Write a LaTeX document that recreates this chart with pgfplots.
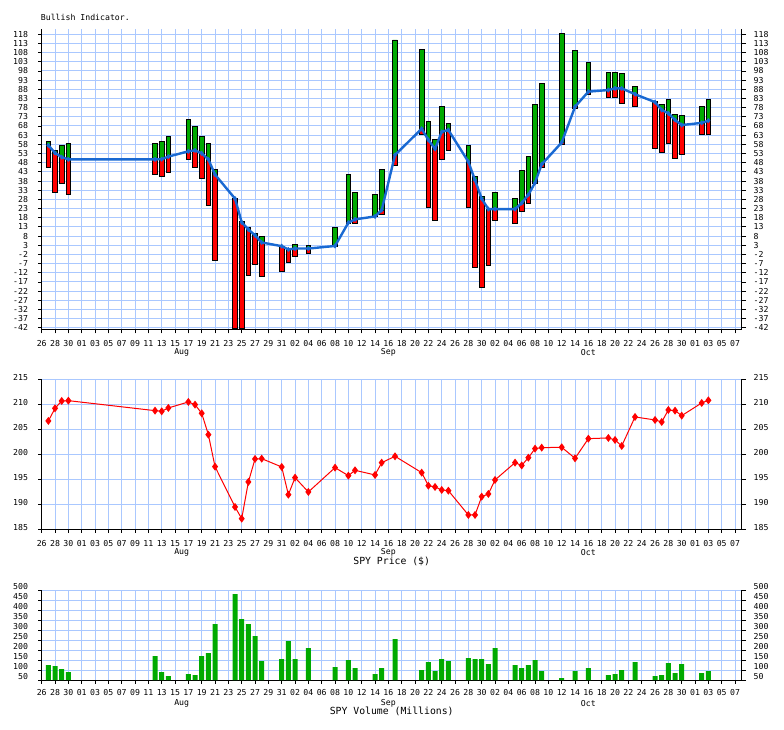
\documentclass[border=0pt]{standalone}
\usepackage{fontspec}
\setmainfont{DejaVu Sans Mono}
\usepackage{pgfplots}
\usepackage{pgfplotstable}
\pgfplotsset{compat=1.18}

\definecolor{gridblue}{RGB}{170,200,255}
\definecolor{bargreen}{RGB}{0,170,0}
\definecolor{barred}{RGB}{255,0,0}
\definecolor{lineblue}{RGB}{25,105,210}

\newcommand\tk{\fontsize{8.2}{9}\selectfont}
\newcommand\lb{\fontsize{9.8}{11}\selectfont}

% day 0 = Jul 26
\pgfplotstableread{
x   lo     mid    hi
1   45.3   57.5   59.6
2   31.6   53.3   54.9
3   36.5   51.0   57.5
4   30.7   49.8   58.5
17  41.6   49.8   58.5
18  40.4   49.9   59.6
19  42.7   51.3   62.4
22  49.6   54.2   71.8
23  45.5   54.7   67.8
24  39.5   53.1   62.4
25  24.7   49.8   58.5
26  -5.1   41.5   44.4
29  -42.4  28.4   28.4
30  -42.4  15.5   15.8
31  -13.5  11.6   12.7
32  -7.5   8.4    9.6
33  -14.0  4.5    7.8
36  -11.5  2.5    2.5
37  -6.4   0.7    0.7
38  -3.3   1.2    3.5
40  -1.5   1.2    2.9
44  2.6    2.6    12.7
46  15.0   15.3   41.8
47  14.9   17.1   31.8
50  18.7   18.7   30.9
51  19.8   22.2   44.5
53  46.5   52.2   114.9
57  63.5   66.5   109.5
58  23.6   60.4   70.5
59  16.7   55.5   60.7
60  49.8   64.8   78.7
61  54.7   65.8   69.5
64  23.6   48.5   57.5
65  -9.1   38.5   40.5
66  -20.0  28.3   29.5
67  -8.0   22.7   22.7
68  16.5   22.7   31.8
71  14.9   22.7   28.5
72  21.5   26.0   44.0
73  25.7   30.5   51.6
74  36.7   37.1   79.8
75  45.5   47.1   91.3
78  58.2   59.0   118.5
80  77.6   78.5   109.3
82  85.3   86.7   102.7
85  83.6   87.6   97.3
86  83.6   88.5   97.3
87  80.4   88.5   96.7
89  78.9   85.3   89.5
92  55.8   81.0   81.6
93  53.6   76.7   79.8
94  58.5   74.9   82.5
95  50.4   71.3   74.4
96  52.5   68.5   73.6
99  63.5   69.7   78.5
100 63.5   70.9   82.5
}\bull

\pgfplotstableread{
x   y
1   206.67
2   209.2
3   210.67
4   210.73
17  208.73
18  208.6
19  209.27
22  210.47
23  209.93
24  208.2
25  203.93
26  197.53
29  189.47
30  187.13
31  194.47
32  199.07
33  199.13
36  197.47
37  191.93
38  195.33
40  192.47
44  197.33
46  195.73
47  196.8
50  195.87
51  198.33
53  199.6
57  196.33
58  193.73
59  193.47
60  192.87
61  192.73
64  187.87
65  187.87
66  191.53
67  192.07
68  194.87
71  198.33
72  197.77
73  199.33
74  201.13
75  201.33
78  201.4
80  199.2
82  203.13
85  203.27
86  202.87
87  201.67
89  207.47
92  206.87
93  206.47
94  208.87
95  208.73
96  207.73
99  210.27
100 210.8
}\price

\pgfplotstableread{
x   y
1   125
2   120
3   105
4   90
17  170
18  90
19  70
22  80
23  75
24  170
25  185
26  330
29  480
30  355
31  330
32  270
33  145
36  155
37  245
38  155
40  210
44  115
46  150
47  110
50  80
51  110
53  255
57  100
58  140
59  95
60  155
61  145
64  160
65  155
66  155
67  130
68  210
71  125
72  110
73  125
74  150
75  95
78  60
80  95
82  110
85  75
86  80
87  100
89  140
92  70
93  75
94  135
95  85
96  130
99  85
100 95
}\vol

\pgfplotsset{
  panel/.style={
    scale only axis, width=700pt, xmin=0, xmax=105,
    /pgf/number format/assume math mode=true,
    tick align=outside, major tick length=3.5pt,
    every tick/.style={black, line width=0.8pt},
    axis line style={black, line width=1pt},
    tick label style={font=\tk},
  },
  leftpanel/.style={
    panel,
    axis x line*=bottom, axis y line*=left,
    grid=major, grid style={gridblue, line width=1pt},
    xtick={0,2,...,104},
    xticklabels={26,28,30,01,03,05,07,09,11,13,15,17,19,21,23,25,27,29,31,02,04,06,08,10,12,14,16,18,20,22,24,26,28,30,02,04,06,08,10,12,14,16,18,20,22,24,26,28,30,01,03,05,07},
    extra x ticks={21,52,82},
    extra x tick labels={Aug,Sep,Oct},
    extra x tick style={grid=none, major tick length=0pt, xticklabel style={yshift=-12.7pt}},
    xticklabel style={anchor=center, inner sep=0pt, yshift=-10pt},
    yticklabel style={anchor=east, inner sep=0pt, xshift=-10pt},
  },
  rightpanel/.style={
    panel, axis x line=none, axis y line*=right, major tick length=4.5pt,
    yticklabel style={anchor=west, inner sep=0pt, xshift=7.3pt},
  },
}

\begin{document}
\begin{tikzpicture}
\fill[white] (0pt,0pt) rectangle (784pt,729pt);
\path[use as bounding box] (0pt,0pt) rectangle (784pt,729pt);

% Bullish indicator
\begin{axis}[leftpanel, at={(41.7pt,399pt)}, anchor=south west,
  height=300.7pt, ymin=-43.2, ymax=120.7, ytick={-42,-37,...,118},
  ybar stacked, stack negative=on previous, bar width=4.6pt,
  title={Bullish Indicator.},
  title style={at={(axis description cs:0,1)}, anchor=base west,
    inner sep=0pt, xshift=-1pt, yshift=2.6pt, font=\tk}]
  \addplot[draw=none, fill=none] table[x=x, y=lo] {\bull};
  \addplot[fill=barred, draw=black, line width=0.7pt]
    table[x=x, y expr=\thisrow{mid}-\thisrow{lo}] {\bull};
  \addplot[fill=bargreen, draw=black, line width=0.7pt]
    table[x=x, y expr=\thisrow{hi}-\thisrow{mid}] {\bull};
\end{axis}
\begin{axis}[rightpanel, at={(41.7pt,399pt)}, anchor=south west,
  height=300.7pt, ymin=-43.2, ymax=120.7, ytick={-42,-37,...,118}]
  \addplot[lineblue, line width=2.4pt, mark=diamond*, mark size=2.2pt,
    mark options={line width=0.5pt}] table[x=x, y=mid] {\bull};
\end{axis}

% SPY price
\begin{axis}[leftpanel, at={(41.7pt,199.7pt)}, anchor=south west,
  height=150pt, ymin=185, ymax=215, ytick={185,190,...,215},
  yticklabel style={yshift=2pt}, xticklabel style={yshift=-0.7pt},
  xlabel={SPY Price (\$)},
  xlabel style={at={(axis description cs:0.5,0)}, anchor=center,
    yshift=-31.7pt, font=\lb}]
  \addplot[barred, line width=1pt, mark=diamond*, mark size=3.2pt] table {\price};
\end{axis}
\begin{axis}[rightpanel, at={(41.7pt,199.7pt)}, anchor=south west,
  height=150pt, ymin=185, ymax=215, ytick={185,190,...,215},
  yticklabel style={yshift=2pt}]
\end{axis}

% SPY volume
\begin{axis}[leftpanel, at={(41.7pt,49pt)}, anchor=south west,
  height=90pt, ymin=50, ymax=500, ytick={50,100,...,500},
  yticklabel style={yshift=3pt}, xticklabel style={yshift=0.7pt},
  extra x tick style={xticklabel style={yshift=-1.3pt}},
  ybar, bar width=5pt,
  xlabel={SPY Volume (Millions)},
  xlabel style={at={(axis description cs:0.5,0)}, anchor=center,
    yshift=-31pt, font=\lb}]
  \addplot[fill=bargreen, draw=none] table {\vol};
\end{axis}
\begin{axis}[rightpanel, at={(41.7pt,49pt)}, anchor=south west,
  height=90pt, ymin=50, ymax=500, ytick={50,100,...,500},
  yticklabel style={yshift=3pt}]
\end{axis}
\end{tikzpicture}
\end{document}
